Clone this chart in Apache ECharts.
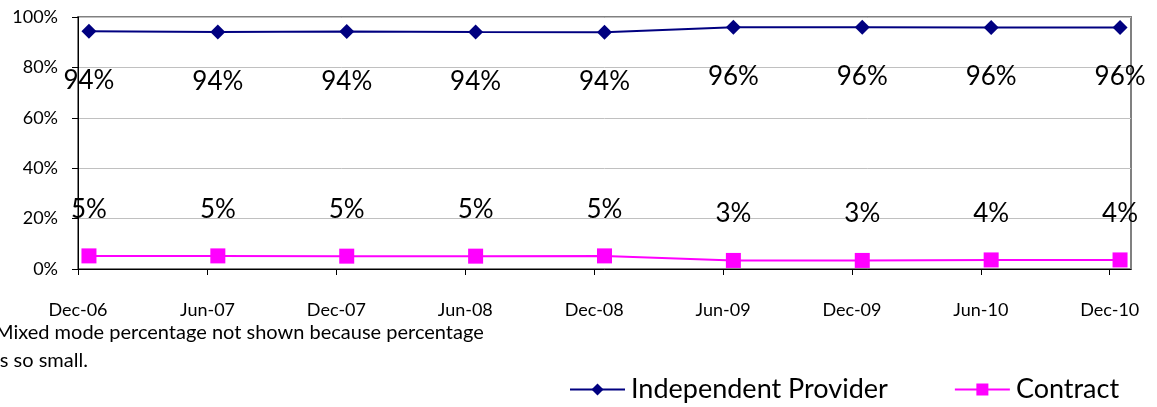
<!DOCTYPE html>
<html>
<head>
<meta charset="utf-8">
<script src="https://cdn.jsdelivr.net/npm/echarts@6/dist/echarts.min.js"></script>
<style>
  html, body { margin: 0; padding: 0; background: #fff; }
  #main { width: 1157px; height: 407px; }
</style>
</head>
<body>
<div id="main"></div>
<script>
var categories = ['Dec-06', 'Jun-07', 'Dec-07', 'Jun-08', 'Dec-08', 'Jun-09', 'Dec-09', 'Jun-10', 'Dec-10'];
var independent = [94.3, 94.0, 94.2, 94.0, 93.9, 95.9, 95.9, 95.8, 95.8];
var contract = [5.2, 5.2, 5.1, 5.1, 5.2, 3.4, 3.4, 3.6, 3.6];
var yTicks = [0, 20, 40, 60, 80, 100];

var font = 'Lato, "Open Sans", sans-serif';
var pad = 0.085; // gap between each tick and its point

function pairs(arr) {
	return arr.map(function (v, i) { return [i, v]; });
}

var chart = echarts.init(document.getElementById('main'));

var option = {
	backgroundColor: '#fff',
	animation: false,
	textStyle: { fontFamily: font },
	grid: {
		left: 78,
		right: 26,
		top: 17,
		bottom: 138,
		show: true,
		borderColor: '#808080',
		borderWidth: 2,
		backgroundColor: 'transparent'
	},
	xAxis: {
		type: 'value',
		min: -pad,
		max: categories.length - 1 + pad,
		interval: 1,
		axisLine: { show: true, onZero: false, lineStyle: { color: '#000', width: 1 } },
		axisTick: { show: true, length: 6, lineStyle: { color: '#000' } },
		splitLine: { show: false },
		axisLabel: {
			margin: 32,
			fontSize: 18,
			color: '#000',
			fontFamily: font,
			showMaxLabel: false,
			formatter: function (v) {
				var i = Math.round(v + pad);
				return Math.abs(v + pad - i) < 0.05 && categories[i] ? categories[i] : '';
			}
		}
	},
	yAxis: {
		type: 'value',
		min: yTicks[0],
		max: yTicks[yTicks.length - 1],
		interval: 20,
		axisLine: { show: true, onZero: false, lineStyle: { color: '#000', width: 1 } },
		axisTick: { show: true, length: 6, lineStyle: { color: '#000' } },
		splitLine: { show: true, lineStyle: { color: '#c0c0c0', width: 1 } },
		axisLabel: {
			margin: 20,
			fontSize: 18,
			color: '#000',
			fontFamily: font,
			formatter: '{value}%'
		}
	},
	legend: {
		left: 564,
		top: 371,
		itemWidth: 55,
		itemHeight: 15,
		itemGap: 66,
		textStyle: { fontSize: 27, color: '#000', fontFamily: font, padding: [0, 0, 0, 1] },
		data: ['Independent Provider', 'Contract']
	},
	graphic: [
		{
			type: 'text',
			left: -5,
			top: 323,
			style: { text: 'Mixed mode percentage not shown because percentage', fontSize: 20, fill: '#000', fontFamily: font }
		},
		{
			type: 'text',
			left: -5,
			top: 351,
			style: { text: 'is so small.', fontSize: 20, fill: '#000', fontFamily: font }
		}
	],
	series: [
		{
			name: 'Independent Provider',
			type: 'line',
			data: pairs(independent),
			symbol: 'diamond',
			symbolSize: 15,
			lineStyle: { color: '#000080', width: 2 },
			itemStyle: { color: '#000080' },
			label: {
				show: true,
				position: 'bottom',
				distance: 29,
				fontSize: 26,
				color: '#000',
				fontFamily: font,
				formatter: function (p) { return Math.round(p.value[1]) + '%'; }
			}
		},
		{
			name: 'Contract',
			type: 'line',
			data: pairs(contract),
			symbol: 'rect',
			symbolSize: 15,
			lineStyle: { color: '#ff00ff', width: 2 },
			itemStyle: { color: '#ff00ff' },
			label: {
				show: true,
				position: 'top',
				distance: 26,
				fontSize: 26,
				color: '#000',
				fontFamily: font,
				formatter: function (p) { return Math.round(p.value[1]) + '%'; }
			}
		}
	]
};

chart.setOption(option);
</script>
</body>
</html>
